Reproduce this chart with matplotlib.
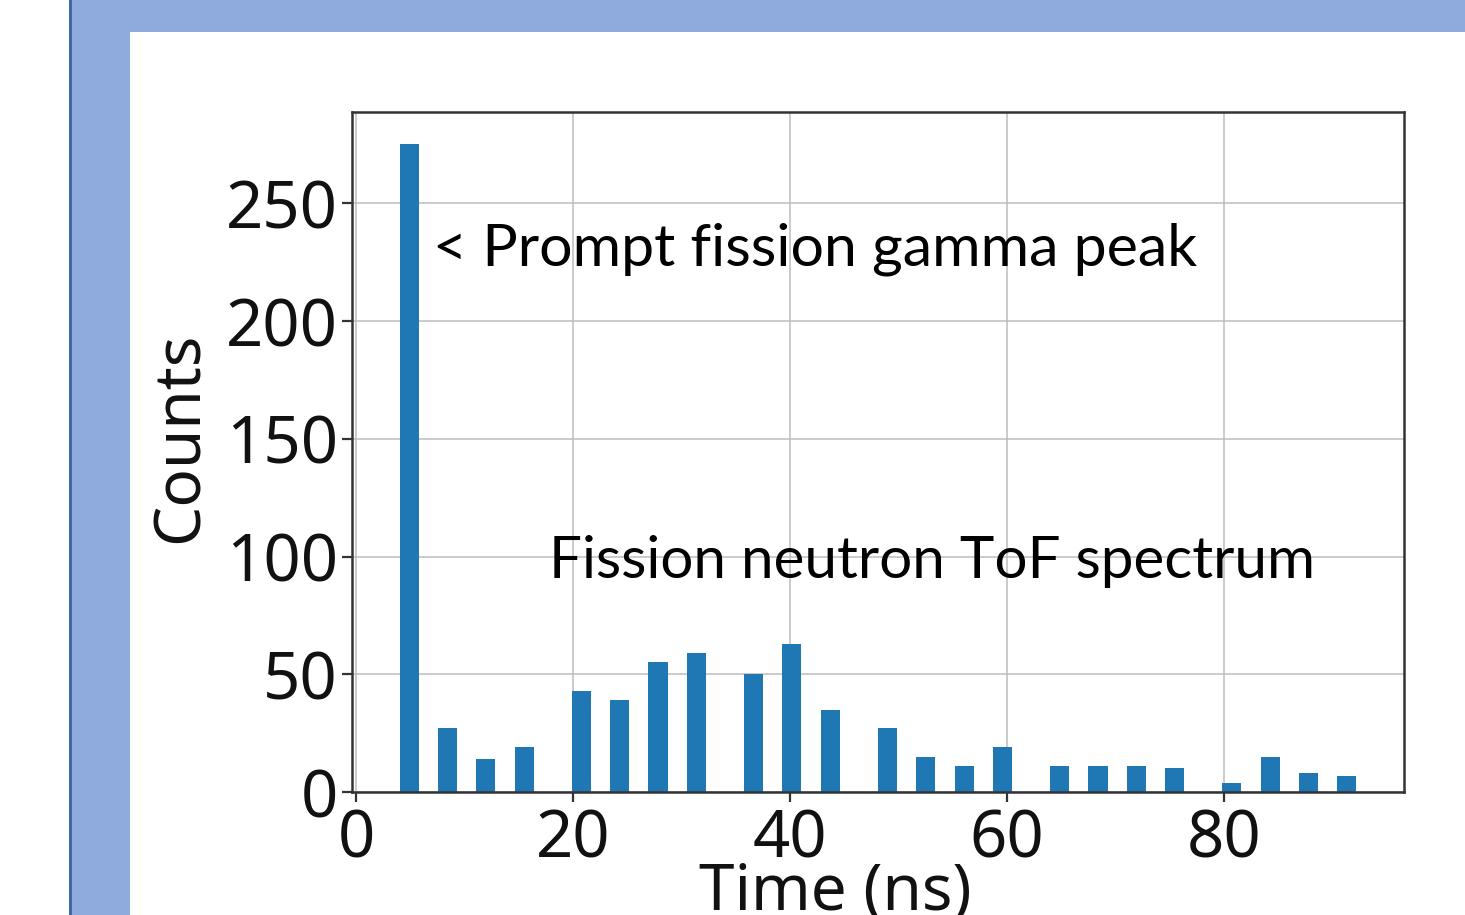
import matplotlib
matplotlib.use("Agg")
import matplotlib.pyplot as plt
from matplotlib.patches import Rectangle
import numpy as np

# Time-of-flight histogram: 50 bins between the first and last recorded time
time_min_ns = 4.0
time_max_ns = 92.2
n_bins = 50
bin_counts = [
    275, 0, 27, 0, 14, 0, 19, 0, 0, 43,
    0, 39, 0, 55, 0, 59, 0, 0, 50, 0,
    63, 0, 35, 0, 0, 27, 0, 15, 0, 11,
    0, 19, 0, 0, 11, 0, 11, 0, 11, 0,
    10, 0, 0, 4, 0, 15, 0, 8, 0, 7,
]
x_ticks = [0, 20, 40, 60, 80]
y_ticks = [0, 50, 100, 150, 200, 250]

W, H = 1465, 915
fig = plt.figure(figsize=(W / 100, H / 100), dpi=100)
fig.patch.set_facecolor("white")


def fx(px):
    return px / W


def fy(py):
    return 1 - py / H


# Slide frame: light blue band on the top and left, white content area
frame = [
    ((fx(70), 0), fx(W - 70), 1, "#8faadc"),
    ((fx(130), 0), fx(W - 130), fy(32), "white"),
    ((fx(69), 0), fx(2.5), 1, "#4169a8"),
]
for xy, w, h, c in frame:
    fig.patches.append(Rectangle(xy, w, h, transform=fig.transFigure,
                                 facecolor=c, edgecolor="none", zorder=-10))

ax = fig.add_axes([fx(352), fy(792), fx(1404 - 352), fy(112) - fy(792)])
ax.set_zorder(1)
ax.set_facecolor("white")

edges = np.linspace(time_min_ns, time_max_ns, n_bins + 1)
centers = 0.5 * (edges[:-1] + edges[1:])
ax.hist(centers, bins=edges, weights=bin_counts, color="#1f77b4", zorder=2)

ax.set_xticks(x_ticks)
ax.set_yticks(y_ticks)
ax.grid(True, color="#bdbdbd", linewidth=1.1, zorder=0)
ax.set_axisbelow(True)

tick_family = ["Noto Sans", "DejaVu Sans"]
for lab in ax.get_xticklabels() + ax.get_yticklabels():
    lab.set_fontfamily(tick_family)
    lab.set_fontsize(47)
    lab.set_color("#111111")
ax.tick_params(axis="both", length=7, width=1.6, color="#333333")
ax.tick_params(axis="x", pad=4)
ax.tick_params(axis="y", pad=3)

for sp in ax.spines.values():
    sp.set_linewidth(1.8)
    sp.set_color("#333333")

ax.set_xlabel("Time (ns)", fontfamily=tick_family, fontsize=46, color="#111111")
ax.set_ylabel("Counts", fontfamily=tick_family, fontsize=46, color="#111111")
ax.xaxis.set_label_coords((835 - 352) / (1404 - 352), -0.102, transform=ax.transAxes)
ax.yaxis.set_label_coords((181 - 352) / (1404 - 352), (792 - 437) / (792 - 112),
                          transform=ax.transAxes)
ax.xaxis.label.set_verticalalignment("top")
ax.yaxis.label.set_verticalalignment("center")

# Slide annotations
note_family = ["Lato", "DejaVu Sans"]
fig.text(fx(433), fy(265), "< Prompt fission gamma peak", family=note_family,
         fontsize=42.5, color="black", va="baseline", ha="left", zorder=5)
fig.text(fx(549), fy(578), "Fission neutron ToF spectrum", family=note_family,
         fontsize=42, color="black", va="baseline", ha="left", zorder=5)

fig.savefig("out.png", dpi=100, facecolor=fig.get_facecolor())
